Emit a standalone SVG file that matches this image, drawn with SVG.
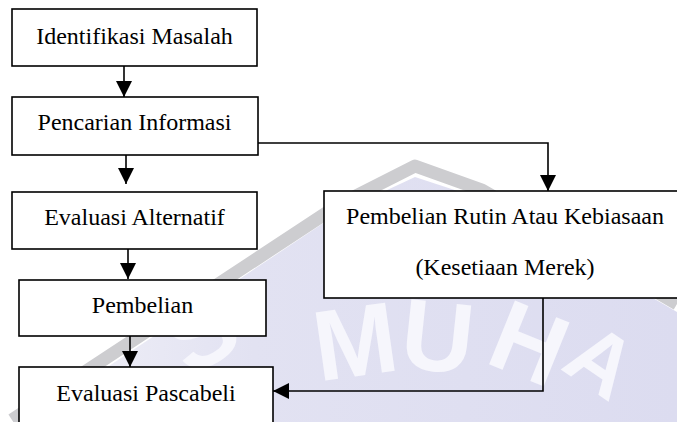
<svg xmlns="http://www.w3.org/2000/svg" width="677" height="422" viewBox="0 0 677 422">
  <defs>
    <style>
      .box { fill: #ffffff; stroke: #000000; stroke-width: 1.6; }
      .lbl { font-family: "Liberation Serif", "Times New Roman", serif; font-size: 24px; fill: #000000; text-anchor: middle; }
      .conn { fill: none; stroke: #000000; stroke-width: 1.6; }
      .wm { font-family: "Liberation Sans", Arial, sans-serif; font-weight: bold; font-size: 100px; fill: #f6f6fc; text-anchor: middle; }
    </style>
    <linearGradient id="lav" x1="0" y1="0" x2="1" y2="0">
      <stop offset="0" stop-color="#f1f1f7"/>
      <stop offset="0.35" stop-color="#e2e2f2"/>
      <stop offset="1" stop-color="#dcdcf0"/>
    </linearGradient>
    <marker id="ah" viewBox="0 0 16 16" refX="16" refY="8" markerWidth="16" markerHeight="16" markerUnits="userSpaceOnUse" orient="auto">
      <path d="M0,0 L16,8 L0,16 Z" fill="#000000"/>
    </marker>
  </defs>

  <rect x="0" y="0" width="677" height="422" fill="#ffffff"/>

  <!-- watermark -->
  <g id="watermark">
    <polygon points="25,422 340,212 415,177 482,199 677,312 677,422" fill="url(#lav)"/>
    <polyline points="12,420 340,204 415,166 482,190 677,304" fill="none" stroke="#cdcdd0" stroke-width="13" stroke-linejoin="round"/>
    <text class="wm" transform="translate(200,330) rotate(-30)" y="36">S</text>
    <text class="wm" transform="translate(355,340) rotate(-8)" y="36">M</text>
    <text class="wm" transform="translate(438,335) rotate(6)" y="36">U</text>
    <text class="wm" transform="translate(530,342) rotate(22)" y="36">H</text>
    <text class="wm" transform="translate(602,360) rotate(34)" y="31" style="font-size:86px">A</text>
  </g>

  <!-- connectors -->
  <g id="connectors">
    <line class="conn" x1="124" y1="66" x2="124" y2="97" marker-end="url(#ah)"/>
    <line class="conn" x1="126" y1="155" x2="126" y2="184" marker-end="url(#ah)"/>
    <line class="conn" x1="128" y1="249" x2="128" y2="279" marker-end="url(#ah)"/>
    <line class="conn" x1="130" y1="336" x2="130" y2="367" marker-end="url(#ah)"/>
    <polyline class="conn" points="258,143 548,143 548,191" marker-end="url(#ah)"/>
    <polyline class="conn" points="543,298 543,391 273,391" marker-end="url(#ah)"/>
  </g>

  <g id="identifikasi">
    <rect class="box" x="12" y="9" width="245" height="57"/>
    <text class="lbl" x="134.5" y="44">Identifikasi Masalah</text>
  </g>
  <g id="pencarian">
    <rect class="box" x="12" y="97" width="246" height="58"/>
    <text class="lbl" x="134.5" y="130">Pencarian Informasi</text>
  </g>
  <g id="evaluasi-alternatif">
    <rect class="box" x="12" y="192" width="245" height="57"/>
    <text class="lbl" x="134.5" y="225">Evaluasi Alternatif</text>
  </g>
  <g id="pembelian">
    <rect class="box" x="19" y="280" width="247" height="56"/>
    <text class="lbl" x="142.5" y="313">Pembelian</text>
  </g>
  <g id="evaluasi-pascabeli">
    <rect class="box" x="19" y="367" width="254" height="80"/>
    <text class="lbl" x="146" y="401">Evaluasi Pascabeli</text>
  </g>
  <g id="pembelian-rutin">
    <rect class="box" x="324" y="191" width="362" height="107"/>
    <text class="lbl" x="505" y="224">Pembelian Rutin Atau Kebiasaan</text>
    <text class="lbl" x="505" y="275">(Kesetiaan Merek)</text>
  </g>
</svg>
